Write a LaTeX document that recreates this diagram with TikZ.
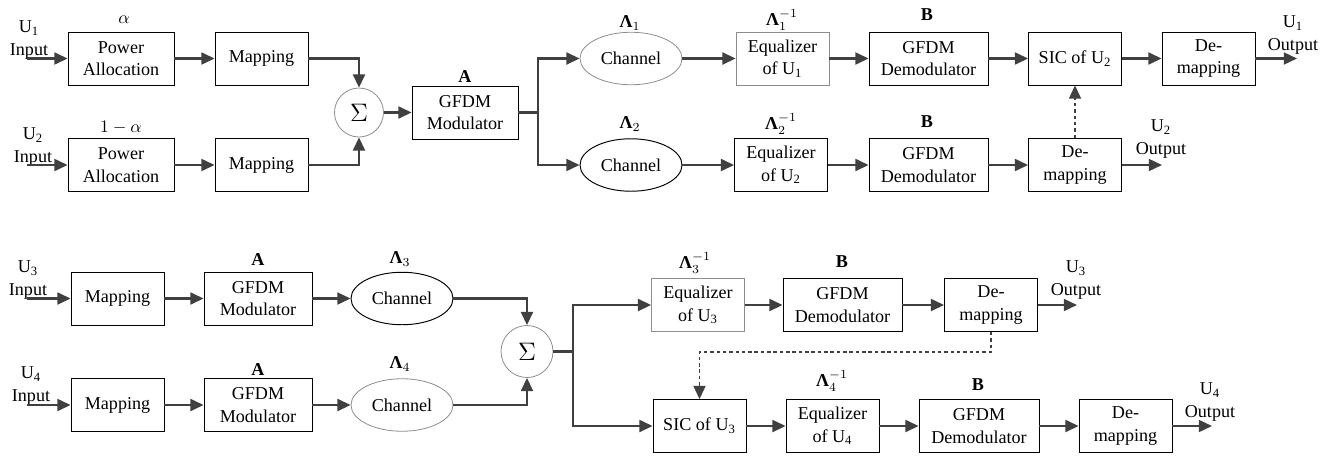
\documentclass[tikz,border=0pt]{standalone}
\usepackage{fontspec}
\setmainfont{Liberation Serif}
\usepackage{amsmath}
\usetikzlibrary{shapes.geometric, arrows.meta, positioning, calc}
\definecolor{linegray}{RGB}{64, 64, 64}
\definecolor{boxgray}{RGB}{140, 140, 140}
\newcommand{\diagfont}{\fontsize{10.3pt}{12.9pt}\selectfont}
\newcommand{\Lam}{\textbf{Λ}}
\tikzset{
  block/.style={rectangle, draw=black, line width=0.5pt, minimum width=#1,
                minimum height=1.06cm, align=center, inner sep=1pt, font=\diagfont},
  block/.default=1.86cm,
  gblock/.style={block=#1, draw=boxgray, line width=0.45pt},
  gblock/.default=1.86cm,
  chan/.style={ellipse, draw=black, line width=0.55pt, minimum width=2.04cm,
               minimum height=1.05cm, inner sep=0pt, font=\diagfont},
  gchan/.style={chan, draw=boxgray, line width=0.45pt},
  sumnode/.style={circle, draw=boxgray, line width=0.45pt, minimum size=#1,
                  inner sep=0pt, font=\fontsize{14pt}{14pt}\selectfont},
  sumnode/.default=0.98cm,
  arrow/.style={-{Triangle[length=7.5pt, width=6.8pt]}, line width=1.2pt, color=linegray},
  dasharrow/.style={arrow, line width=1pt, dash pattern=on 2pt off 1.6pt},
  lab/.style={inner sep=0pt, align=center, font=\diagfont},
}

\begin{document}
\begin{tikzpicture}[x=0.02cm, y=-0.02cm]
  \useasboundingbox (0,0) rectangle (1336,457);

  % Downlink of U1 and U2
  \node[block=2.12cm] (pa1) at (121,58.5) {Power\\Allocation};
  \node[block] (map1) at (261.5,58.5) {Mapping};
  \node[block=2.12cm] (pa2) at (121,165) {Power\\Allocation};
  \node[block] (map2) at (261.5,165) {Mapping};
  \node[sumnode] (sum1) at (359,112.5) {$\Sigma$};
  \node[block=2.12cm] (mod) at (465,112.5) {GFDM\\Modulator};
  \coordinate (br1) at (538,112.5);

  \node[gchan] (ch1) at (631,58.5) {Channel};
  \node[gblock] (eq1) at (782.5,58.5) {Equalizer\\of U\textsubscript{1}};
  \node[block=2.38cm] (dem1) at (928.5,58.5) {GFDM\\Demodulator};
  \node[block] (sic2) at (1075,58.5) {SIC of U\textsubscript{2}};
  \node[block] (dmp1) at (1208.5,58.5) {De-\\mapping};

  \node[chan] (ch2) at (631,165) {Channel};
  \node[block] (eq2) at (781,165) {Equalizer\\of U\textsubscript{2}};
  \node[block=2.38cm] (dem2) at (928.5,165) {GFDM\\Demodulator};
  \node[block] (dmp2) at (1075,165) {De-\\mapping};

  \coordinate (in1) at (27,58.5);
  \coordinate (in2) at (27,165);
  \coordinate (out1) at (1297,58.5);
  \coordinate (out2) at (1162,165);

  \node[lab] (u1in) at (29,40) {U\textsubscript{1}\\Input};
  \node[lab] (u2in) at (33,147) {U\textsubscript{2}\\Input};
  \node[lab] (u1out) at (1293,35) {U\textsubscript{1}\\Output};
  \node[lab] (u2out) at (1161,139) {U\textsubscript{2}\\Output};
  \node[lab] (alpha) at (124,20) {$\alpha$};
  \node[lab] (oma) at (121,128) {$1-\alpha$};
  \node[lab] (amat1) at (465,77) {\textbf{A}};
  \node[lab] (lam1) at (630,23) {$\Lam_1$};
  \node[lab] (lam2) at (630,124) {$\Lam_2$};
  \node[lab] (ilam1) at (782,20) {$\Lam_1^{-1}$};
  \node[lab] (ilam2) at (781,124) {$\Lam_2^{-1}$};
  \node[lab] (bmat1) at (927,15) {\textbf{B}};
  \node[lab] (bmat2) at (927,122) {\textbf{B}};

  \foreach \source/\target in {in1/pa1, pa1/map1, in2/pa2, pa2/map2, sum1/mod,
      ch1/eq1, eq1/dem1, dem1/sic2, sic2/dmp1, dmp1/out1,
      ch2/eq2, eq2/dem2, dem2/dmp2, dmp2/out2}
    \draw[arrow] (\source) -- (\target);
  \draw[arrow] (map1.east) -| (sum1.north);
  \draw[arrow] (map2.east) -| (sum1.south);
  \draw[arrow] (mod.east) -- (br1) |- (ch1.west);
  \draw[arrow] (br1) |- (ch2.west);
  \draw[dasharrow] (dmp2.north) -- (sic2.south);

  % Uplink of U3 and U4
  \node[block] (map3) at (117.5,298.5) {Mapping};
  \node[block=2.16cm] (mod3) at (258,298.5) {GFDM\\Modulator};
  \node[chan] (ch3) at (402,298.5) {Channel};
  \node[block] (map4) at (117.5,405) {Mapping};
  \node[block=2.16cm] (mod4) at (258,405) {GFDM\\Modulator};
  \node[gchan] (ch4) at (402,405) {Channel};
  \node[sumnode=1.04cm] (sum2) at (527,351.5) {$\Sigma$};
  \coordinate (br2) at (573,351.5);

  \node[gblock] (eq3) at (698,305) {Equalizer\\of U\textsubscript{3}};
  \node[block=2.38cm] (dem3) at (842.5,305) {GFDM\\Demodulator};
  \node[block] (dmp3) at (991,305) {De-\\mapping};

  \node[block] (sic3) at (699.5,426) {SIC of U\textsubscript{3}};
  \node[block] (eq4) at (832.5,426) {Equalizer\\of U\textsubscript{4}};
  \node[block=2.4cm] (dem4) at (979,426) {GFDM\\Demodulator};
  \node[block] (dmp4) at (1125.5,426) {De-\\mapping};

  \coordinate (in3) at (27,298.5);
  \coordinate (in4) at (27,405);
  \coordinate (out3) at (1077,305);
  \coordinate (out4) at (1212,426);

  \node[lab] (u3in) at (28,280) {U\textsubscript{3}\\Input};
  \node[lab] (u4in) at (31,386) {U\textsubscript{4}\\Input};
  \node[lab] (u3out) at (1076,280) {U\textsubscript{3}\\Output};
  \node[lab] (u4out) at (1210,402) {U\textsubscript{4}\\Output};
  \node[lab] (amat3) at (258,260) {\textbf{A}};
  \node[lab] (amat4) at (258,370) {\textbf{A}};
  \node[lab] (lam3) at (400,259) {$\Lam_3$};
  \node[lab] (lam4) at (400,364) {$\Lam_4$};
  \node[lab] (ilam3) at (695,263) {$\Lam_3^{-1}$};
  \node[lab] (ilam4) at (832,381) {$\Lam_4^{-1}$};
  \node[lab] (bmat3) at (842,262) {\textbf{B}};
  \node[lab] (bmat4) at (978,385) {\textbf{B}};

  \foreach \source/\target in {in3/map3, map3/mod3, mod3/ch3, in4/map4, map4/mod4,
      mod4/ch4, eq3/dem3, dem3/dmp3, dmp3/out3,
      sic3/eq4, eq4/dem4, dem4/dmp4, dmp4/out4}
    \draw[arrow] (\source) -- (\target);
  \draw[arrow] (ch3.east) -| (sum2.north);
  \draw[arrow] (ch4.east) -| (sum2.south);
  \draw[arrow] (sum2.east) -- (br2) |- (eq3.west);
  \draw[arrow] (br2) |- (sic3.west);
  \draw[dasharrow] (dmp3.south) -- ++(0,20) -| (sic3.north);
\end{tikzpicture}
\end{document}
